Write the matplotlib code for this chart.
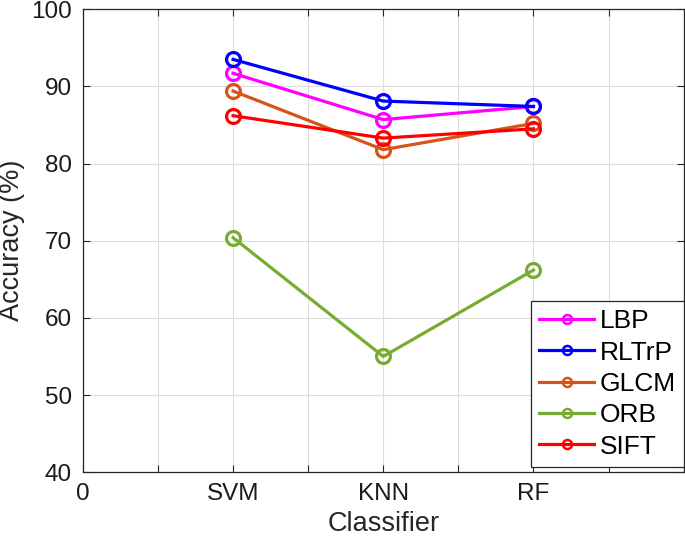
import matplotlib.pyplot as plt
import numpy as np

plt.rcParams['font.family'] = ['Liberation Sans', 'DejaVu Sans']

classifiers = ["SVM", "KNN", "RF"]
lbp = [91.7, 85.7, 87.4]
rltrp = [93.5, 88.1, 87.4]
glcm = [89.4, 81.8, 85.2]
orb = [70.4, 55.0, 66.2]
sift = [86.2, 83.3, 84.5]

series = [("LBP", lbp, "#FF00FF"),
          ("RLTrP", rltrp, "#0000FF"),
          ("GLCM", glcm, "#D95319"),
          ("ORB", orb, "#77AC30"),
          ("SIFT", sift, "#FF0000")]

xs = np.arange(1, len(classifiers) + 1)

fig = plt.figure(figsize=(6.85, 5.44), dpi=100)
ax = fig.add_axes([0.121, 0.132, 0.877, 0.851])

for name, vals, color in series:
    ax.plot(xs, vals, color=color, lw=2.3, marker="o", ms=10,
            mfc="none", mew=2.3, label=name)

ax.set_xlim(0, 4)
ax.set_ylim(40, 100)
ax.set_xticks(np.arange(0, 4.01, 0.5))
ax.set_xticklabels(["0", "", "SVM", "", "KNN", "", "RF", "", ""])
ax.set_yticks(np.arange(40, 101, 10))
ax.tick_params(direction="in", top=True, right=True, labelsize=17.5,
               length=5, color="#262626", labelcolor="#1a1a1a", pad=8)
ax.grid(True, color="#dcdcdc", lw=0.8)
for sp in ax.spines.values():
    sp.set_color("#262626")
    sp.set_linewidth(0.9)

ax.set_xlabel("Classifier", fontsize=19.5, color="#262626")
ax.set_ylabel("Accuracy (%)", fontsize=19.5, color="#262626")

leg = ax.legend(loc="lower right", bbox_to_anchor=(1.0, 0.012),
                fontsize=19, fancybox=False, framealpha=1,
                edgecolor="#262626", borderaxespad=0,
                handlelength=2.1, handletextpad=0.2, labelspacing=0.28,
                borderpad=0.3)
leg.get_frame().set_linewidth(0.9)
for h in leg.legend_handles:
    h.set_markersize(6.5)
    h.set_markeredgewidth(1.8)

fig.savefig("out.png", dpi=100)
